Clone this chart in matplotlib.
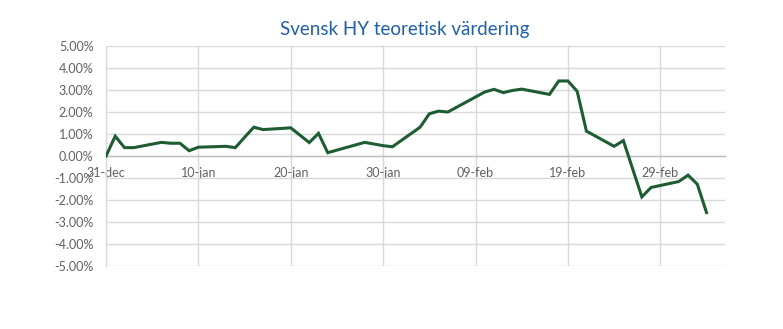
import matplotlib
matplotlib.use("Agg")
import matplotlib.pyplot as plt
import matplotlib.dates as mdates
import numpy as np
from datetime import date, timedelta

# Daily theoretical valuation, cumulative change in percent
dates = [
    "2019-12-31", "2020-01-01", "2020-01-02", "2020-01-03", "2020-01-06",
    "2020-01-07", "2020-01-08", "2020-01-09", "2020-01-10", "2020-01-13",
    "2020-01-14", "2020-01-15", "2020-01-16", "2020-01-17", "2020-01-20",
    "2020-01-22", "2020-01-23", "2020-01-24", "2020-01-28", "2020-01-30",
    "2020-01-31", "2020-02-03", "2020-02-04", "2020-02-05", "2020-02-06",
    "2020-02-10", "2020-02-11", "2020-02-12", "2020-02-13", "2020-02-14",
    "2020-02-17", "2020-02-18", "2020-02-19", "2020-02-20", "2020-02-21",
    "2020-02-24", "2020-02-25", "2020-02-27", "2020-02-28", "2020-03-02",
    "2020-03-03", "2020-03-04", "2020-03-05",
]
values = [
    0.00, 0.90, 0.38, 0.38, 0.62,
    0.58, 0.58, 0.24, 0.40, 0.44,
    0.38, 0.85, 1.31, 1.20, 1.28,
    0.61, 1.03, 0.15, 0.62, 0.47,
    0.42, 1.31, 1.92, 2.04, 2.00,
    2.91, 3.03, 2.88, 2.98, 3.04,
    2.80, 3.41, 3.41, 2.94, 1.13,
    0.44, 0.70, -1.86, -1.43, -1.16,
    -0.87, -1.28, -2.57,
]
x_tick_dates = ["2019-12-31", "2020-01-10", "2020-01-20", "2020-01-30",
                "2020-02-09", "2020-02-19", "2020-02-29"]
x_tick_labels = ["31-dec", "10-jan", "20-jan", "30-jan",
                 "09-feb", "19-feb", "29-feb"]
y_ticks = [5, 4, 3, 2, 1, 0, -1, -2, -3, -4, -5]
title = "Svensk HY teoretisk värdering"

plt.rcParams["font.family"] = ["Lato", "DejaVu Sans"]

W, H = 783, 329
fig = plt.figure(figsize=(W / 100, H / 100), dpi=100)
fig.patch.set_facecolor("white")
ax = fig.add_axes([106 / W, 1 - 266 / H, (725 - 106) / W, (266 - 46) / H])

x = [date.fromisoformat(d) for d in dates]
grid_col = "#D9D9D9"
label_col = "#606060"

ax.plot(x, values, color="#1E5C32", lw=2.2, solid_joinstyle="miter", zorder=3)

x0 = date.fromisoformat("2019-12-31")
ax.set_xlim(x0, x0 + timedelta(days=67))
ax.set_ylim(-5, 5)

ax.set_yticks(y_ticks)
ax.set_yticklabels([f"{v:.2f}%" for v in y_ticks])
ax.set_xticks([date.fromisoformat(d) for d in x_tick_dates])
ax.set_xticklabels(x_tick_labels)

ax.grid(True, color=grid_col, lw=1.0, zorder=0)
ax.set_axisbelow(True)

for s in ["top", "right"]:
    ax.spines[s].set_visible(False)
ax.spines["left"].set_color(grid_col)
ax.spines["left"].set_linewidth(1.0)
ax.spines["bottom"].set_position(("data", 0))
ax.spines["bottom"].set_color("#BFBFBF")
ax.spines["bottom"].set_linewidth(1.0)

ax.tick_params(axis="both", length=0, labelsize=9, labelcolor=label_col)
ax.tick_params(axis="y", pad=9)
ax.tick_params(axis="x", pad=8)

fig.text(405 / W, 1 - 29 / H, title, ha="center", va="center",
         fontsize=13.5, color="#2060A8")

fig.savefig("out.png", dpi=100, facecolor="white")
